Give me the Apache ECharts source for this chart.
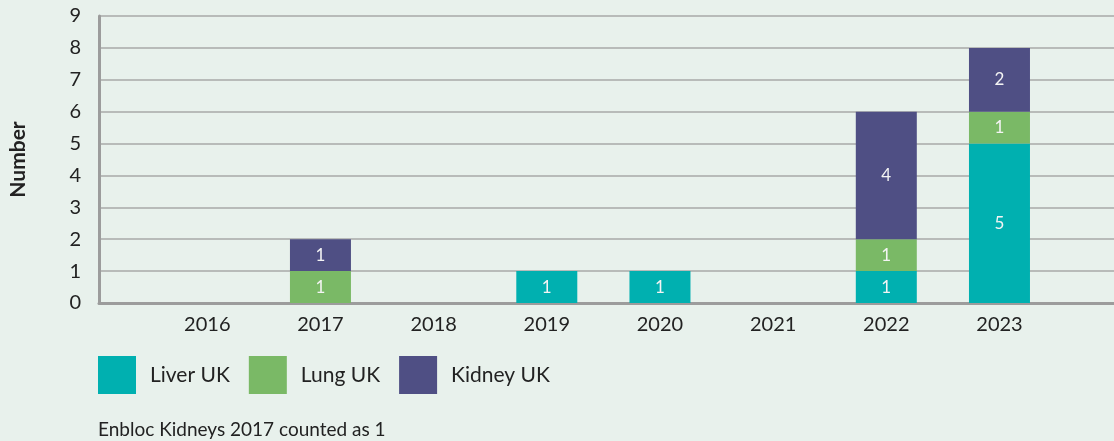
<!DOCTYPE html>
<html>
<head>
<meta charset="utf-8">
<script src="https://cdn.jsdelivr.net/npm/echarts@6/dist/echarts.min.js"></script>
<style>
  html, body { margin: 0; padding: 0; background: #e8f1ec; }
  #main { width: 1114px; height: 441px; }
</style>
</head>
<body>
<div id="main"></div>
<script>
// data
var years = ['2016', '2017', '2018', '2019', '2020', '2021', '2022', '2023'];
var liverUK = [0, 0, 0, 1, 1, 0, 1, 5];
var lungUK = [0, 1, 0, 0, 0, 0, 1, 1];
var kidneyUK = [0, 1, 0, 0, 0, 0, 4, 2];
var yMin = 0, yMax = 9;

var FONT = 'Lato, "Noto Sans", sans-serif';
var BAND = 113.17;   // width of one year slot, px

var chart = echarts.init(document.getElementById('main'));

function barSeries(name, vals, color) {
    return {
        name: name,
        type: 'bar',
        stack: 'total',
        xAxisIndex: 1,
        yAxisIndex: 1,
        barWidth: 61,
        data: vals,
        itemStyle: { color: color },
        label: {
            show: true,
            position: 'inside',
            color: '#f4f4f4',
            fontFamily: FONT,
            fontSize: 17,
            formatter: function (p) {
                return p.value > 0 ? String(p.value) : '';
            }
        },
        emphasis: { disabled: true }
    };
}

var option = {
    backgroundColor: '#e8f1ec',
    animation: false,
    // grid 0: frame, y labels and gridlines; grid 1: the bars
    grid: [
        { left: 99, right: 0, top: 16, bottom: 138 },
        { left: 150.7, width: BAND * years.length, top: 16, bottom: 138 }
    ],
    title: {
        text: 'Enbloc Kidneys 2017 counted as 1',
        left: 93,
        top: 415,
        textStyle: { fontFamily: FONT, fontSize: 19, fontWeight: 'normal', color: '#222' }
    },
    legend: {
        left: 98,
        top: 356,
        padding: 0,
        itemWidth: 38,
        itemHeight: 38,
        itemGap: 19,
        icon: 'rect',
        data: ['Liver UK', 'Lung UK', 'Kidney UK'],
        textStyle: { fontFamily: FONT, fontSize: 21, color: '#222', padding: [0, 0, 0, 9] }
    },
    xAxis: [
        {
            gridIndex: 0,
            type: 'value',
            min: 0,
            max: 1,
            axisLine: { show: true, lineStyle: { color: '#9c9c9c', width: 3 } },
            axisTick: { show: false },
            axisLabel: { show: false },
            splitLine: { show: false }
        },
        {
            gridIndex: 1,
            type: 'category',
            data: years,
            axisLine: { show: false },
            axisTick: { show: false },
            axisLabel: { margin: 12, fontFamily: FONT, fontSize: 20, color: '#222' }
        }
    ],
    yAxis: [
        {
            gridIndex: 0,
            type: 'value',
            min: yMin,
            max: yMax,
            interval: 1,
            name: 'Number',
            nameLocation: 'middle',
            nameGap: 70,
            nameRotate: 90,
            nameTextStyle: { fontFamily: FONT, fontSize: 21, fontWeight: 'bold', color: '#222' },
            axisLine: { show: true, lineStyle: { color: '#9c9c9c', width: 3 } },
            axisTick: { show: false },
            axisLabel: { margin: 18, fontFamily: FONT, fontSize: 20, color: '#222' },
            splitLine: { show: true, lineStyle: { color: '#a8a8a8', width: 1.5 } }
        },
        {
            gridIndex: 1,
            type: 'value',
            min: yMin,
            max: yMax,
            show: false,
            splitLine: { show: false }
        }
    ],
    series: [
        barSeries('Liver UK', liverUK, '#00b0b0'),
        barSeries('Lung UK', lungUK, '#7ab966'),
        barSeries('Kidney UK', kidneyUK, '#4f4f84')
    ]
};

chart.setOption(option);
</script>
</body>
</html>
